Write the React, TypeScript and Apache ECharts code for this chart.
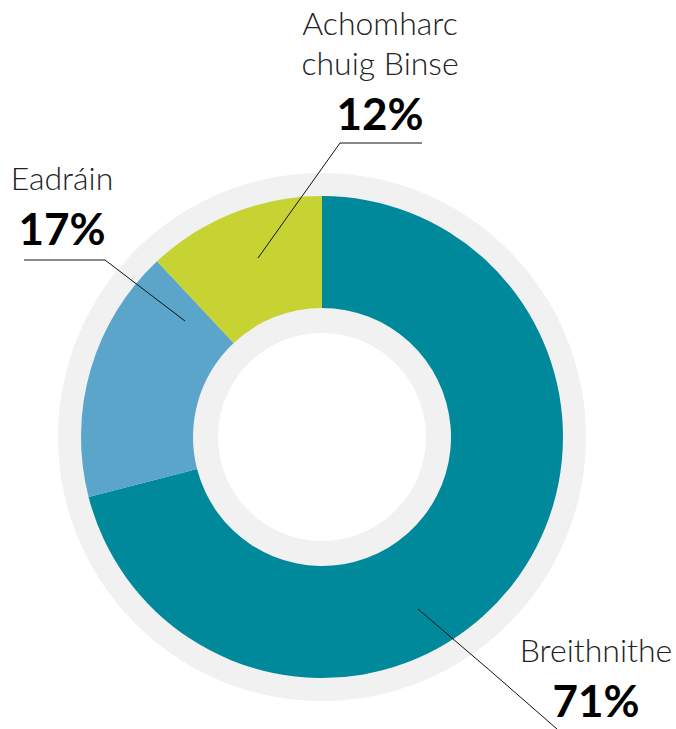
import React, { useEffect, useRef } from "react";
import * as echarts from "echarts";

const categories = ["Breithnithe", "Eadráin", "Achomharc\nchuig Binse"];
const values = [71, 17, 12];
const colors = ["#00899b", "#5ba4ca", "#c6d333"];

export default function App() {
  const ref = useRef<HTMLDivElement>(null);
  useEffect(() => {
    const chart = echarts.init(ref.current!, null, { renderer: "svg" });
    const labelPos: Record<number, any> = {
      0: { x: 596, y: 629 },
      1: { x: 62, y: 157 },
      2: { x: 380, y: 2 },
    };
    const leaderLines = [
      [[418, 609], [487, 668], [557, 729]],
      [[185, 321], [105, 260], [24, 260]],
      [[258, 258], [340, 143], [422, 143]],
    ];
    chart.setOption({
      animation: false,
      graphic: leaderLines.map((pts) => ({
        type: "polyline",
        z: 100,
        silent: true,
        shape: { points: pts },
        style: { stroke: "#111", lineWidth: 1, fill: null },
      })),
      series: [
        {
          type: "pie",
          silent: true,
          z: 1,
          center: [322, 437],
          radius: [104, 264],
          label: { show: false },
          labelLine: { show: false },
          itemStyle: { color: "#f1f1f1" },
          data: [{ value: 1, name: "bg" }],
        },
        {
          type: "pie",
          z: 2,
          silent: true,
          center: [322, 437],
          radius: [129, 241],
          startAngle: 90,
          clockwise: true,
          data: categories.map((c, i) => ({
            name: c,
            value: values[i],
            itemStyle: { color: colors[i] },
          })),
          label: {
            show: true,
            position: "outside",
            overflow: "none",
            formatter: (p: any) => `{n|${p.name.split("\n").join("}\n{n|")}}\n{p|${p.value}%}`,
            rich: {
              n: {
                fontFamily: "Lato",
                fontWeight: 300,
                fontSize: 32,
                lineHeight: 40,
                color: "#222",
                align: "center",
              },
              p: {
                fontFamily: "Lato",
                fontWeight: "bold",
                fontSize: 44,
                lineHeight: 62,
                color: "#000",
                align: "center",
              },
            },
          },
          labelLine: { show: false },
          labelLayout: (params: any) => {
            const lp = labelPos[params.dataIndex];
            return {
              x: lp.x,
              y: lp.y,
              align: "center",
              verticalAlign: "top",
            };
          },
        },
      ],
    });
    return () => chart.dispose();
  }, []);
  return (
    <div
      ref={ref}
      style={{ position: "fixed", left: 0, top: 0, width: 676, height: 729, background: "#fff" }}
    />
  );
}
